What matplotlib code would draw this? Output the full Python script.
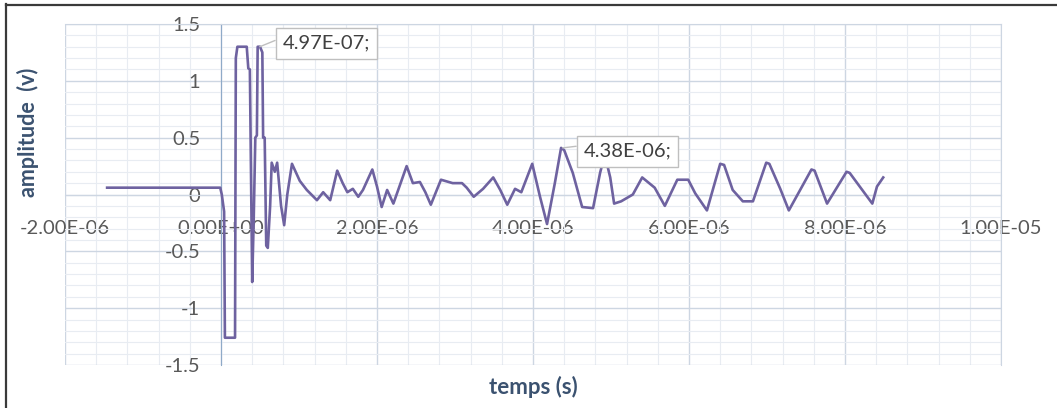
import matplotlib
matplotlib.use("Agg")
import matplotlib.pyplot as plt
import numpy as np
from matplotlib.lines import Line2D
from matplotlib.ticker import FuncFormatter, MultipleLocator

# Signal (time in microseconds, amplitude in volts)
time_us = [
    -1.46, -0.01, 0.01, 0.04, 0.05, 0.18, 0.19, 0.21, 0.33, 0.35, 0.37, 0.40,
    0.42, 0.44, 0.46, 0.47, 0.50, 0.53, 0.54, 0.56, 0.58, 0.60, 0.63, 0.65,
    0.69, 0.72, 0.77, 0.81, 0.85, 0.91, 1.01, 1.10, 1.23, 1.31, 1.40, 1.49,
    1.56, 1.62, 1.69, 1.76, 1.82, 1.94, 2.00, 2.06, 2.13, 2.21, 2.38, 2.46,
    2.55, 2.62, 2.69, 2.82, 2.97, 3.09, 3.15, 3.24, 3.36, 3.49, 3.58, 3.67,
    3.77, 3.85, 3.99, 4.09, 4.18, 4.28, 4.36, 4.40, 4.51, 4.63, 4.77, 4.86,
    4.92, 4.99, 5.04, 5.13, 5.28, 5.40, 5.56, 5.69, 5.85, 5.99, 6.08, 6.23,
    6.40, 6.45, 6.56, 6.69, 6.82, 6.99, 7.03, 7.17, 7.28, 7.57, 7.61, 7.77,
    8.02, 8.06, 8.35, 8.41, 8.49,
]
amplitude = [
    0.06, 0.06, 0.00, -0.15, -1.26, -1.26, 1.20, 1.30, 1.30, 1.11, 1.10, -0.77,
    -0.20, 0.50, 0.52, 1.30, 1.30, 1.25, 0.50, 0.50, -0.45, -0.47, -0.10, 0.28,
    0.20, 0.28, -0.10, -0.27, 0.00, 0.27, 0.12, 0.04, -0.05, 0.02, -0.05, 0.21,
    0.10, 0.02, 0.05, -0.02, 0.04, 0.22, 0.07, -0.11, 0.04, -0.08, 0.25, 0.10,
    0.11, 0.02, -0.09, 0.13, 0.10, 0.10, 0.06, -0.02, 0.05, 0.15, 0.04, -0.09,
    0.05, 0.02, 0.27, -0.02, -0.26, 0.10, 0.41, 0.39, 0.19, -0.11, -0.12, 0.19,
    0.35, 0.15, -0.08, -0.06, 0.00, 0.15, 0.06, -0.10, 0.13, 0.13, 0.01, -0.14,
    0.27, 0.26, 0.04, -0.06, -0.06, 0.28, 0.27, 0.05, -0.14, 0.22, 0.21, -0.08,
    0.20, 0.19, -0.08, 0.07, 0.15,
]

# Data labels shown on the chart
label_x_us = [0.497, 4.38]
label_y = [1.30, 0.41]
label_text = ["4.97E-07;", "4.38E-06;"]

TEXT_GREY = "#595959"
TITLE_BLUE = "#3B5270"
LINE_COLOR = "#6E62A0"

plt.rcParams.update({
    "font.family": ["Lato", "DejaVu Sans"],
    "figure.facecolor": "white",
    "axes.facecolor": "white",
})

fig = plt.figure(figsize=(10.57, 4.08), dpi=100)
ax = fig.add_axes([65 / 1057, 43 / 408, 936 / 1057, 341 / 408])

t = np.array(time_us) * 1e-6
ax.plot(t, amplitude, color=LINE_COLOR, linewidth=1.9, zorder=3,
        solid_joinstyle="round")

ax.set_xlim(-2e-6, 1e-5)
ax.set_ylim(-1.5, 1.5)
ax.xaxis.set_major_locator(MultipleLocator(2e-6))
ax.xaxis.set_minor_locator(MultipleLocator(0.4e-6))
ax.yaxis.set_major_locator(MultipleLocator(0.5))
ax.yaxis.set_minor_locator(MultipleLocator(0.1))

ax.grid(which="major", color="#CDD6E2", linewidth=1.0)
ax.grid(which="minor", color="#E8ECF2", linewidth=0.8)
ax.set_axisbelow(True)

# axes cross at zero, Excel style
for side in ["top", "right"]:
    ax.spines[side].set_color("#CDD6E2")
ax.spines["left"].set_position(("data", 0))
ax.spines["bottom"].set_position(("data", 0))
ax.spines["left"].set_color("#8FAAC8")
ax.spines["bottom"].set_color("#CDD6E2")

ax.xaxis.set_major_formatter(FuncFormatter(lambda v, _: f"{v:.2E}"))
ax.yaxis.set_major_formatter(FuncFormatter(lambda v, _: f"{v:g}"))
ax.tick_params(axis="both", which="both", length=0, labelsize=14.5, labelcolor=TEXT_GREY)
ax.tick_params(axis="y", pad=15)
ax.tick_params(axis="x", pad=18)

# outer frame of the image (top and left only are visible)
fig.add_artist(Line2D([6 / 1057, 6 / 1057], [0, 1 - 4 / 408], color="#3A3A3A", linewidth=1.6))
fig.add_artist(Line2D([6 / 1057, 1], [1 - 5 / 408, 1 - 5 / 408], color="#3A3A3A", linewidth=1.6))

fig.text(28 / 1057, 1 - 132 / 408, "amplitude  (v)", rotation=90, ha="center", va="center",
         fontsize=15.5, fontweight="bold", color=TITLE_BLUE)
fig.text(533 / 1057, 1 - 387 / 408, "temps (s)", ha="center", va="center",
         fontsize=16, fontweight="bold", color=TITLE_BLUE)

text_pos = [(0.79e-6, 1.33), (4.65e-6, 0.38)]
for xv, yv, txt, (tx, ty) in zip(label_x_us, label_y, label_text, text_pos):
    ax.annotate(
        txt, xy=(xv * 1e-6, yv), xytext=(tx, ty), textcoords="data",
        ha="left", va="center", fontsize=14.5, color="#404040", zorder=5,
        bbox=dict(boxstyle="square,pad=0.35", fc="white", ec="#BFBFBF", lw=1.0),
        arrowprops=dict(arrowstyle="-", color="#BFBFBF", lw=1.0,
                        relpos=(0.0, 0.85), shrinkA=0, shrinkB=0),
    )

fig.savefig("out.png", dpi=100)
